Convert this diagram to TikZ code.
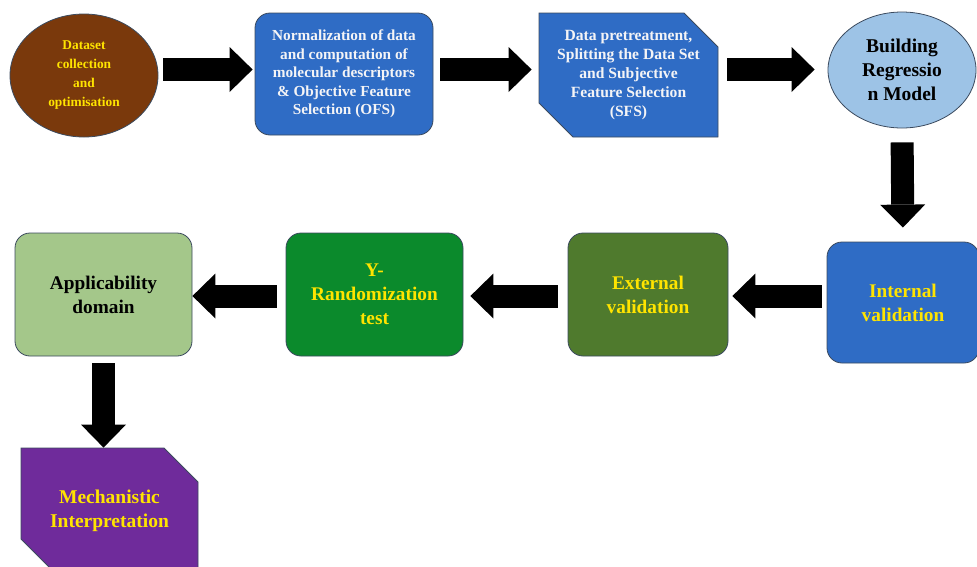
\documentclass[tikz,border=0pt]{standalone}
\usepackage{fontspec}
\setmainfont{Liberation Serif}
\usetikzlibrary{arrows.meta, calc, shapes.geometric, shapes.misc}
\definecolor{qsEdge}{HTML}{3B4A5E}
\definecolor{qsBrown}{HTML}{7A390C}
\definecolor{qsBlue}{HTML}{2F6CC5}
\definecolor{qsSky}{HTML}{9DC3E6}
\definecolor{qsOlive}{HTML}{4F7A2D}
\definecolor{qsGreen}{HTML}{0B8A2C}
\definecolor{qsMint}{HTML}{A4C78A}
\definecolor{qsPurple}{HTML}{6F2B9B}
\definecolor{qsYellow}{HTML}{FFE400}
\definecolor{qsPale}{HTML}{F4F4F6}
\tikzset{
  qsbase/.style={draw=qsEdge, line width=0.8pt, align=center, inner sep=0pt},
  qsoval/.style={qsbase, ellipse, fill=#1},
  qsround/.style={qsbase, rectangle, rounded corners=15pt, fill=#1},
  qssnip/.style={qsbase, chamfered rectangle,
    chamfered rectangle corners={north east, south west},
    chamfered rectangle xsep=17pt, chamfered rectangle ysep=17pt, fill=#1},
  qsarrow/.style={draw=black, line width=23pt,
    -{Triangle[length=23pt, width=45pt, line width=0pt]}},
}
\begin{document}
\begin{tikzpicture}[x=1pt, y=-1pt]
\useasboundingbox (0,0) rectangle (977,566);

% top row
\node[qsoval=qsBrown, minimum width=148pt, minimum height=123pt,
  text=qsYellow, font=\bfseries\fontsize{13.4}{19}\selectfont]
  (ds) at (84,75.5) {Dataset\\collection\\and\\optimisation};
\node[qsround=qsBlue, minimum width=178pt, minimum height=122pt,
  text=qsPale, font=\bfseries\fontsize{15.3}{18.5}\selectfont]
  (norm) at (344,74) {Normalization of data\\and computation of\\molecular descriptors\\\& Objective Feature\\Selection (OFS)};
\node[qssnip=qsBlue, minimum width=179pt, minimum height=124pt,
  text=qsPale, font=\bfseries\fontsize{15.6}{18.8}\selectfont]
  (pre) at (628.5,75) {Data pretreatment,\\Splitting the Data Set\\and Subjective\\Feature Selection\\(SFS)};
\node[qsoval=qsSky, minimum width=148pt, minimum height=116pt,
  text=black, font=\bfseries\fontsize{19.5}{24}\selectfont]
  (brm) at (902,70) {Building\\Regressio\\n Model};

% bottom row, right to left
\node[qsround=qsBlue, minimum width=152pt, minimum height=121pt,
  text=qsYellow, font=\bfseries\fontsize{19.3}{24}\selectfont]
  (intv) at (903,302.5) {Internal\\validation};
\node[qsround=qsOlive, minimum width=160pt, minimum height=123pt,
  text=qsYellow, font=\bfseries\fontsize{19.3}{24}\selectfont]
  (extv) at (648,294.5) {External\\validation};
\node[qsround=qsGreen, minimum width=177pt, minimum height=123pt,
  text=qsYellow, font=\bfseries\fontsize{19.3}{24}\selectfont]
  (yr) at (374.5,294.5) {Y-\\Randomization\\test};
\node[qsround=qsMint, minimum width=177pt, minimum height=123pt,
  text=black, font=\bfseries\fontsize{19.3}{24}\selectfont]
  (appd) at (103.5,294.5) {Applicability\\domain};
\node[qssnip=qsPurple, minimum width=177pt, minimum height=125pt,
  text=qsYellow, font=\bfseries\fontsize{19.5}{24}\selectfont]
  (mech) at (109.5,510.5) {Mechanistic\\Interpretation};

% flow
\coordinate (rowA) at (0,69.5);
\coordinate (rowB) at (0,296);
\foreach \a/\b/\s/\t in {ds/norm/5/2, norm/pre/7/7, pre/brm/9/13}{%
  \draw[qsarrow, shorten <=\s pt, shorten >=\t pt]
    (\a.east |- rowA) -- (\b.west |- rowA);
}
\foreach \a/\b/\s/\t in {intv/extv/5/4, extv/yr/10/7, yr/appd/9/0}{%
  \draw[qsarrow, shorten <=\s pt, shorten >=\t pt]
    (\a.west |- rowB) -- (\b.east |- rowB);
}
\draw[qsarrow, shorten <=14pt, shorten >=14pt] (brm.south) -- (intv.north);
\draw[qsarrow, shorten <=7pt] (appd.south) -- (appd.south |- mech.north);

\end{tikzpicture}
\end{document}
